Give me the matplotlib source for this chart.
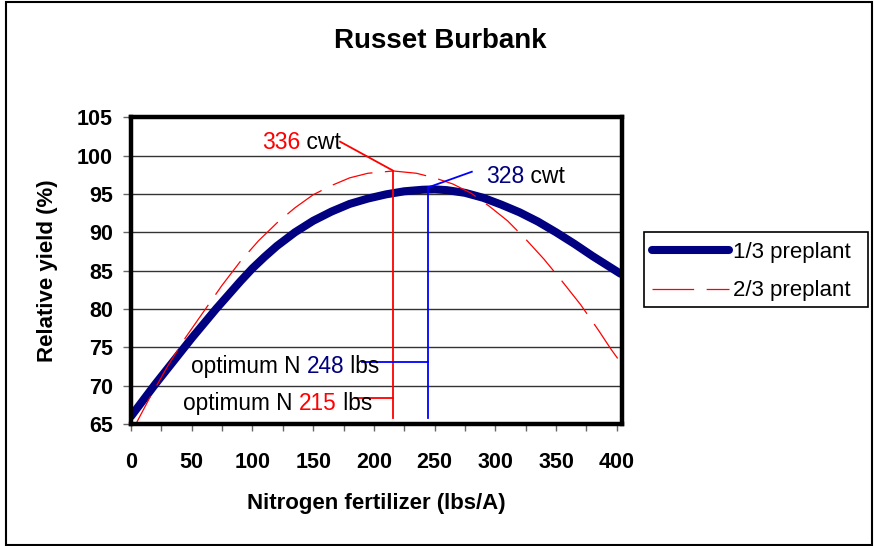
import matplotlib
matplotlib.use("Agg")
import matplotlib.pyplot as plt
from matplotlib.patches import Rectangle
from matplotlib.ticker import MultipleLocator

plt.rcParams['font.family'] = ['Liberation Sans', 'DejaVu Sans']
plt.rcParams['lines.scale_dashes'] = False

# ---------------- data ----------------
title = "Russet Burbank"
xlabel = "Nitrogen fertilizer (lbs/A)"
ylabel = "Relative yield (%)"
series_names = ["1/3 preplant", "2/3 preplant"]

# 1/3 preplant (navy, thick)
n13_x = [0, 10, 20, 30, 40, 50, 60, 70, 80, 90, 100, 110, 120, 135, 150, 165, 180, 195,
         210, 225, 240, 250, 260, 275, 290, 305, 320, 335, 350, 365, 380, 392, 403]
n13_y = [66.0, 68.1, 70.2, 72.2, 74.2, 76.2, 78.1, 80.0, 81.8, 83.6, 85.3, 86.8, 88.2, 90.0,
         91.5, 92.7, 93.7, 94.4, 94.95, 95.35, 95.55, 95.6, 95.5, 95.15, 94.5, 93.6, 92.6,
         91.4, 90.0, 88.5, 86.9, 85.7, 84.6]

# 2/3 preplant (red, dashed)
n23_x = [0, 15, 30, 45, 60, 75, 90, 105, 120, 135, 150, 165, 180, 195, 216, 235, 250, 265,
         280, 295, 310, 325, 340, 355, 370, 385, 395, 405]
n23_y = [63.8, 68.3, 72.5, 76.3, 79.7, 83.1, 86.2, 88.9, 91.2, 93.2, 94.9, 96.1, 97.1, 97.7,
         98.0, 97.7, 97.1, 96.3, 95.1, 93.4, 91.5, 89.1, 86.5, 83.6, 80.6, 77.2, 74.8, 72.6]

# optimum annotations
opt13_label, cwt13_label = "248", "328"
opt23_label, cwt23_label = "215", "336"
opt13_x, opt13_top = 244.9, 95.87
opt23_x, opt23_top = 215.8, 98.04

xticks = [0, 50, 100, 150, 200, 250, 300, 350, 400]
yticks = [65, 70, 75, 80, 85, 90, 95, 100, 105]

NAVY = "#000080"
RED = "#FF0000"
BLUE = "#0000FF"

# ---------------- figure ----------------
W, H = 874, 546
fig = plt.figure(figsize=(W / 100, H / 100), dpi=100)
fig.patch.set_facecolor("white")

# outer border
fig.add_artist(Rectangle((6 / W, 1.5 / H), 866 / W, 543 / H, transform=fig.transFigure,
                         fill=False, edgecolor="black", linewidth=1.5))

ax = fig.add_axes([131 / W, 1 - 424 / H, (621.7 - 131) / W, (424 - 117.3) / H])
ax.set_xlim(0, 404)
ax.set_ylim(65, 105)

ax.plot(n13_x, n13_y, color=NAVY, lw=5.8, solid_capstyle="round",
        solid_joinstyle="round", label=series_names[0], zorder=3)
ax.plot(n23_x, n23_y, color=RED, lw=0.9, dashes=(30, 9), label=series_names[1], zorder=4)

ax.set_xticks(xticks)
ax.xaxis.set_minor_locator(MultipleLocator(25))
ax.set_yticks(yticks)
ax.tick_params(axis="both", which="both", direction="out", color="#666666", width=1)
ax.tick_params(axis="x", which="both", length=5, pad=15, labelsize=15.5)
ax.tick_params(axis="y", which="major", length=6, pad=7, labelsize=15.5)
for lab in ax.get_xticklabels() + ax.get_yticklabels():
    lab.set_fontweight("bold")

ax.yaxis.grid(True, color="#333333", lw=1)
ax.set_axisbelow(True)
for s in ax.spines.values():
    s.set_linewidth(3.2)
    s.set_color("black")
    s.set_zorder(6)

# annotation lines
ax.plot([172.2, opt23_x], [101.82, opt23_top], color=RED, lw=1.3, zorder=5)
ax.plot([opt23_x, opt23_x], [opt23_top, 65.78], color=RED, lw=1.3, zorder=5)
ax.plot([184.5, opt23_x], [68.35, 68.35], color=RED, lw=1.3, zorder=5)
ax.plot([opt13_x, 280.6], [opt13_top, 97.9], color=BLUE, lw=1.3, zorder=5)
ax.plot([opt13_x, opt13_x], [opt13_top, 65.74], color=BLUE, lw=1.3, zorder=5)
ax.plot([190.0, opt13_x], [73.13, 73.13], color=BLUE, lw=1.3, zorder=5)

fig.canvas.draw()


def rich(x, y, parts, size=16.3):
    t = ax.text(x, y, parts[0][0], color=parts[0][1], fontsize=size,
                ha="left", va="baseline", zorder=7)
    prev = t
    for s, c in parts[1:]:
        prev = ax.annotate(s, xy=(1, 0), xycoords=prev, color=c, fontsize=size,
                           ha="left", va="bottom", zorder=7)


rich(107.7, 100.85, [(cwt23_label, RED), (" cwt", "black")], size=16.6)
rich(292.4, 96.39, [(cwt13_label, NAVY), (" cwt", "black")], size=16.6)
rich(49.4, 71.61, [("optimum N ", "black"), (opt13_label, NAVY), (" lbs", "black")])
rich(43.1, 66.83, [("optimum N ", "black"), (opt23_label, RED), (" lbs", "black")])

# titles
fig.text(440 / W, 1 - 41 / H, title, ha="center", va="center", fontsize=20, fontweight="bold")
fig.text(376 / W, 1 - 503 / H, xlabel, ha="center", va="center", fontsize=16, fontweight="bold")
fig.text(48 / W, 1 - 271 / H, ylabel, ha="center", va="center", rotation=90,
         fontsize=16, fontweight="bold")

# legend (frame drawn separately)
fig.add_artist(Rectangle((644 / W, 1 - 307 / H), 224 / W, 75 / H, transform=fig.transFigure,
                         fill=False, edgecolor="black", linewidth=1.2))
h, l = ax.get_legend_handles_labels()
leg = fig.legend(h, l, loc="upper left", bbox_to_anchor=(652 / W, 1 - 242 / H),
                 bbox_transform=fig.transFigure, fontsize=16, frameon=False,
                 borderaxespad=0, borderpad=0, handlelength=3.45, handletextpad=0.2,
                 labelspacing=0.78)

fig.savefig("out.png", dpi=100, facecolor="white")
